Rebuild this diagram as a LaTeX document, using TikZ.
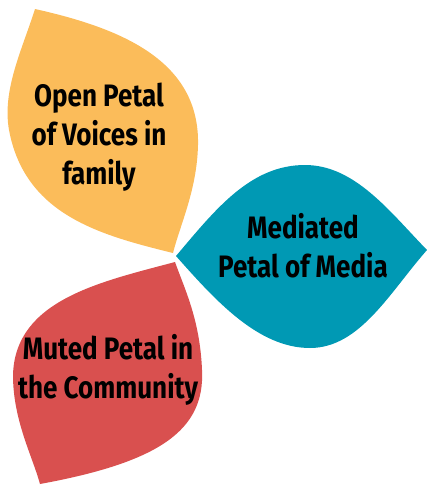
\documentclass[tikz,border=0pt]{standalone}
\usepackage{fontspec}
\setmainfont{Fira Sans}[FakeStretch=0.84]
\definecolor{petalyellow}{RGB}{251,188,90}
\definecolor{petalteal}{RGB}{0,153,180}
\definecolor{petalred}{RGB}{217,80,79}
\begin{document}
\begin{tikzpicture}[x=1pt,y=-1pt,line join=round,
    caption/.style={align=center,text=black,font=\fontsize{31}{39}\selectfont\bfseries}]
            \useasboundingbox (0,0) rectangle (427,485);
            % tips of the three petals
            \coordinate (Y1) at (35,9);
            \coordinate (Y2) at (173,253);
            \coordinate (T1) at (176,256);
            \coordinate (T2) at (427,250);
            \coordinate (R1) at (175,262);
            \coordinate (R2) at (40,484);
            % yellow petal
            \fill[petalyellow] (Y1) .. controls (120,28) and (200,60) .. (198,145)
                .. controls (197,190) and (180,225) .. (Y2)
                .. controls (100,235) and (25,215) .. (9,130)
                .. controls (2,90) and (22,50) .. (Y1);
            % teal petal
            \fill[petalteal] (T1) .. controls (215,210) and (250,165) .. (305,165)
                .. controls (355,165) and (390,212) .. (T2)
                .. controls (390,292) and (360,348) .. (310,348)
                .. controls (258,348) and (215,300) .. (T1);
            % red petal
            \fill[petalred] (R1) .. controls (100,282) and (15,300) .. (13,375)
                .. controls (13,420) and (32,455) .. (R2)
                .. controls (160,462) and (205,430) .. (202,370)
                .. controls (200,320) and (185,290) .. (R1);
            \node[caption] (open) at (99,137) {Open Petal\\of Voices in\\family};
            \node[caption] (mediated) at (303,246) {Mediated\\Petal of Media};
            \node[caption] (muted) at (108,370) {Muted Petal in\\the Community};
        \end{tikzpicture}
\end{document}
